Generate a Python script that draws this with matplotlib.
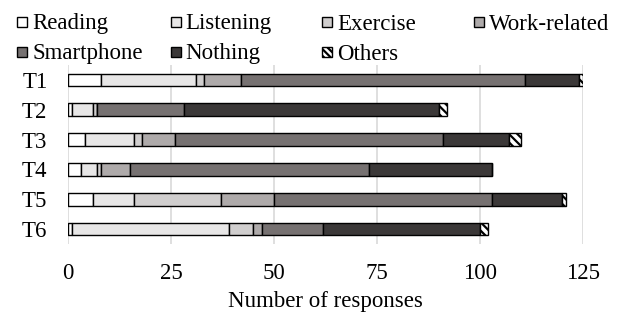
import numpy as np
import matplotlib
matplotlib.use("Agg")
import matplotlib.pyplot as plt
from matplotlib.patches import Rectangle

plt.rcParams['font.family'] = ['Liberation Serif', 'DejaVu Serif']
plt.rcParams['hatch.linewidth'] = 1.6

# data
tasks = ['T1', 'T2', 'T3', 'T4', 'T5', 'T6']
categories = ['Reading', 'Listening', 'Exercise', 'Work-related',
              'Smartphone', 'Nothing', 'Others']
reading = [8, 1, 4, 3, 6, 1]
listening = [23, 5, 12, 4, 10, 38]
exercise = [2, 1, 2, 1, 21, 6]
work_related = [9, 0, 8, 7, 13, 2]
smartphone = [69, 21, 65, 58, 53, 15]
nothing = [13, 62, 16, 30, 17, 38]
others = [1, 2, 3, 0, 1, 2]
xticks = [0, 25, 50, 75, 100, 125]

series = [reading, listening, exercise, work_related, smartphone, nothing, others]
colors = ['#FFFFFF', '#E7E6E6', '#D0CECE', '#AEAAAA', '#767171', '#3B3838', '#FFFFFF']
hatches = [None, None, None, None, None, None, '\\\\\\\\']

FS = 16.5

fig = plt.figure(figsize=(6.29, 3.18), dpi=100)
ax = fig.add_axes([68.3 / 629, 1 - 244 / 318, (582.7 - 68.3) / 629, (244 - 65) / 318])

y = np.arange(len(tasks))
left = np.zeros(len(tasks))
for vals, c, h in zip(series, colors, hatches):
    vals = np.array(vals, dtype=float)
    ax.barh(y, vals, left=left, height=0.42, color=c, edgecolor='black',
            linewidth=1.0, hatch=h, zorder=3)
    left += vals

ax.set_xlim(0, 125)
ax.set_ylim(len(tasks) - 0.5, -0.5)
ax.set_yticks(y)
ax.set_yticklabels(tasks)
ax.set_xticks(xticks)
ax.tick_params(axis='both', length=0, labelsize=FS)
ax.tick_params(axis='y', pad=15)
ax.tick_params(axis='x', pad=14)
ax.grid(axis='x', color='#D9D9D9', linewidth=1.2, zorder=0)
for s in ax.spines.values():
    s.set_visible(False)
ax.set_xlabel('Number of responses', fontsize=FS, labelpad=5)

# legend laid out like the original, four equal columns
col_x = [17.3, 170.7, 321.8, 473.6]
row_y = [21.5, 51.5]
box = 10
for i, name in enumerate(categories):
    cx = col_x[i % 4]
    cy = row_y[i // 4]
    r = Rectangle((cx / 629, 1 - (cy + box / 2) / 318), box / 629, box / 318,
                  transform=fig.transFigure, facecolor=colors[i], edgecolor='black',
                  linewidth=1.0, hatch=hatches[i] and '\\\\\\\\\\')
    fig.add_artist(r)
    fig.text((cx + box + 5) / 629, 1 - cy / 318, name, fontsize=FS,
             va='center_baseline', ha='left')

fig.savefig('out.png', dpi=100)
